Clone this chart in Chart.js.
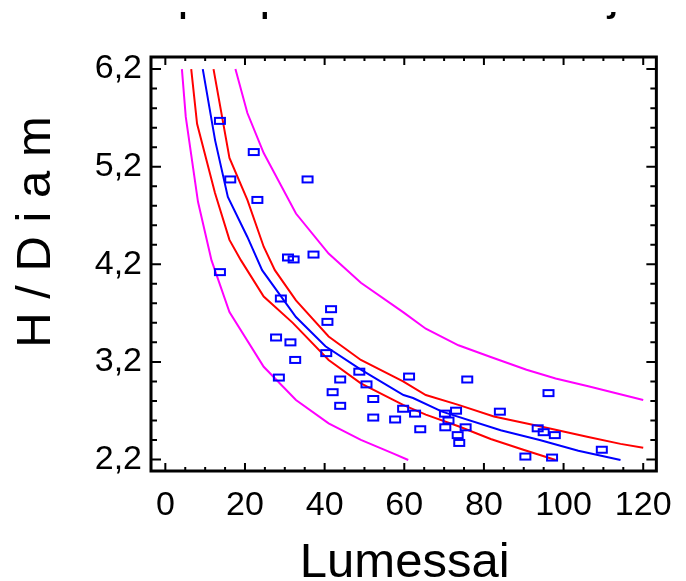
<!DOCTYPE html>
<html>
<head>
<meta charset="utf-8">
<script src="https://cdn.jsdelivr.net/npm/chart.js@4.4.1/dist/chart.umd.min.js"></script>
<style>
  body { margin: 0; background: #fff; }
  #wrap { width: 686px; height: 581px; }
</style>
</head>
<body>
<div id="wrap"><canvas id="chart-modele" width="686" height="581"></canvas></div>
<script>
// Observations (Lumessai, H/Diam)
var obsLum = [13.7, 22.2, 16.3, 35.7, 23.1, 30.8, 32.2, 37.2, 13.7, 29.0,
              41.6, 40.7, 27.8, 31.4, 32.6, 40.4, 48.7, 28.5, 43.9, 50.5,
              42.0, 52.2, 43.9, 52.2, 57.7, 59.7, 61.2, 62.7, 64.0, 75.8,
              70.2, 73.0, 71.1, 70.3, 75.4, 73.4, 73.8, 84.0, 96.2, 93.5,
              95.0, 97.8, 90.4, 97.1, 109.6];
var obsHD  = [5.67, 5.35, 5.07, 5.07, 4.86, 4.27, 4.25, 4.30, 4.12, 3.85,
              3.74, 3.61, 3.45, 3.40, 3.22, 3.29, 3.10, 3.04, 3.02, 2.97,
              2.89, 2.82, 2.75, 2.63, 2.61, 2.72, 3.05, 2.67, 2.51, 3.02,
              2.67, 2.70, 2.60, 2.53, 2.53, 2.45, 2.37, 2.69, 2.88, 2.52,
              2.48, 2.45, 2.23, 2.22, 2.30];

// Modele ajuste
var fitLum = [9.4, 12.5, 15.7, 20.6, 24.3, 32.8, 40.2, 49.1, 59.8, 62.2, 69.5, 84.2, 94.0, 103.7, 114.3];
var fitHD  = [6.20, 5.47, 4.89, 4.48, 4.14, 3.66, 3.36, 3.12, 2.86, 2.83, 2.69, 2.50, 2.40, 2.29, 2.195];

// Limites de confiance
var confBasLum = [6.5, 7.97, 12.47, 16.1, 19.0, 24.7, 32.0, 41.0, 49.1, 59.7, 65.4, 73.6, 81.7, 89.9, 98.0];
var confBasHD  = [6.20, 5.64, 4.93, 4.45, 4.24, 3.87, 3.60, 3.22, 2.98, 2.76, 2.66, 2.54, 2.41, 2.30, 2.195];
var confHautLum = [12.1, 16.1, 20.6, 24.7, 27.5, 32.8, 41.0, 49.1, 59.7, 65.4, 73.6, 82.5, 94.0, 106.2, 114.3, 120.0];
var confHautHD  = [6.20, 5.29, 4.86, 4.38, 4.14, 3.83, 3.46, 3.22, 3.00, 2.86, 2.76, 2.64, 2.54, 2.43, 2.36, 2.32];

// Limites de prevision
var prevBasLum = [4.16, 5.13, 8.2, 11.6, 16.1, 24.7, 32.8, 41.0, 49.1, 57.3, 61.0];
var prevBasHD  = [6.20, 5.71, 4.84, 4.24, 3.71, 3.15, 2.81, 2.57, 2.40, 2.26, 2.195];
var prevHautLum = [17.6, 20.6, 24.7, 32.8, 41.0, 49.1, 59.7, 65.4, 73.6, 81.7, 90.7, 98.0, 106.2, 120.0];
var prevHautHD  = [6.20, 5.75, 5.34, 4.72, 4.31, 4.01, 3.71, 3.54, 3.37, 3.25, 3.12, 3.03, 2.95, 2.81];

var xTicks = [0, 20, 40, 60, 80, 100, 120];
var yTicks = [2.2, 3.2, 4.2, 5.2, 6.2];

var titre = 'Graphique du modèle ajusté';
var titreX = 'Lumessai';
var titreY = 'H / D i a m';

var police = '"Liberation Sans", Arial, sans-serif';

function points(xs, ys) {
    return xs.map(function(x, i) { return { x: x, y: ys[i] }; });
}

// petit rectangle vide pour les observations
var marqueur = document.createElement('canvas');
marqueur.width = 14;
marqueur.height = 10;
var mctx = marqueur.getContext('2d');
mctx.strokeStyle = '#0000ff';
mctx.lineWidth = 2;
mctx.strokeRect(2, 2, 10, 6);

function courbe(xs, ys, couleur) {
    return {
        data: points(xs, ys),
        showLine: true,
        borderColor: couleur,
        borderWidth: 2,
        pointRadius: 0,
        tension: 0,
        fill: false
    };
}

// cadre noir avec graduations vers l'interieur
var cadre = {
    id: 'cadre',
    afterDatasetsDraw: function(chart) {
        var ctx = chart.ctx, a = chart.chartArea;
        var sx = chart.scales.x, sy = chart.scales.y;
        ctx.save();
        ctx.strokeStyle = '#000';
        ctx.lineWidth = 2;
        ctx.beginPath();
        for (var v = 0; v <= 120; v += 5) {
            var px = sx.getPixelForValue(v);
            var l = (v % 20 === 0) ? 8 : 4;
            ctx.moveTo(px, a.bottom); ctx.lineTo(px, a.bottom - l);
            ctx.moveTo(px, a.top); ctx.lineTo(px, a.top + l);
        }
        for (var k = 0; k <= 20; k++) {
            var py = sy.getPixelForValue(2.2 + k * 0.2);
            var m = (k % 5 === 0) ? 10 : 6;
            ctx.moveTo(a.left, py); ctx.lineTo(a.left + m, py);
            ctx.moveTo(a.right, py); ctx.lineTo(a.right - m, py);
        }
        ctx.stroke();
        ctx.lineWidth = 3;
        ctx.strokeRect(a.left, a.top, a.right - a.left, a.bottom - a.top);
        ctx.restore();
    }
};

// titres (le titre general est coupe en haut)
var textes = {
    id: 'textes',
    afterDraw: function(chart) {
        var ctx = chart.ctx, a = chart.chartArea;
        var cx = (a.left + a.right) / 2;
        ctx.save();
        ctx.fillStyle = '#000';
        ctx.font = '49px ' + police;
        ctx.textAlign = 'center';
        ctx.textBaseline = 'alphabetic';

        ctx.save();
        ctx.beginPath();
        ctx.rect(0, 12, chart.width, chart.height);
        ctx.clip();
        ctx.fillText(titre, cx, 9);
        ctx.restore();

        ctx.fillText(titreX, cx + 1, 577);

        ctx.translate(50, 232);
        ctx.rotate(-Math.PI / 2);
        ctx.fillText(titreY, 0, 0);
        ctx.restore();
    }
};

document.addEventListener('DOMContentLoaded', function() {
    var canvas = document.getElementById('chart-modele');

    new Chart(canvas, {
        type: 'scatter',
        data: {
            datasets: [{
                data: points(obsLum, obsHD),
                pointStyle: marqueur,
                pointRadius: 6,
                showLine: false
            },
                courbe(fitLum, fitHD, '#0000ff'),
                courbe(confBasLum, confBasHD, '#ff0000'),
                courbe(confHautLum, confHautHD, '#ff0000'),
                courbe(prevBasLum, prevBasHD, '#ff00ff'),
                courbe(prevHautLum, prevHautHD, '#ff00ff')
            ]
        },
        options: {
            responsive: false,
            animation: false,
            layout: { padding: { top: 57, right: 16, left: 0, bottom: 0 } },
            plugins: { legend: { display: false }, tooltip: { enabled: false }, title: { display: false } },
            scales: {
                x: {
                    type: 'linear',
                    min: -3.6,
                    max: 123.3,
                    afterBuildTicks: function(s) { s.ticks = xTicks.map(function(v) { return { value: v }; }); },
                    afterFit: function(s) { s.height = 110; },
                    ticks: {
                        autoSkip: false,
                        maxRotation: 0,
                        padding: 14,
                        color: '#000',
                        font: { family: police, size: 34 },
                        callback: function(v) { return String(v); }
                    },
                    grid: { display: false, drawTicks: false },
                    border: { display: false }
                },
                y: {
                    type: 'linear',
                    min: 2.082,
                    max: 6.324,
                    afterBuildTicks: function(s) { s.ticks = yTicks.map(function(v) { return { value: v }; }); },
                    afterFit: function(s) { s.width = 151; },
                    ticks: {
                        autoSkip: false,
                        padding: 9,
                        color: '#000',
                        font: { family: police, size: 34 },
                        callback: function(v) { return v.toFixed(1).replace('.', ','); }
                    },
                    grid: { display: false, drawTicks: false },
                    border: { display: false }
                }
            }
        },
        plugins: [cadre, textes]
    });
});
</script>
</body>
</html>
